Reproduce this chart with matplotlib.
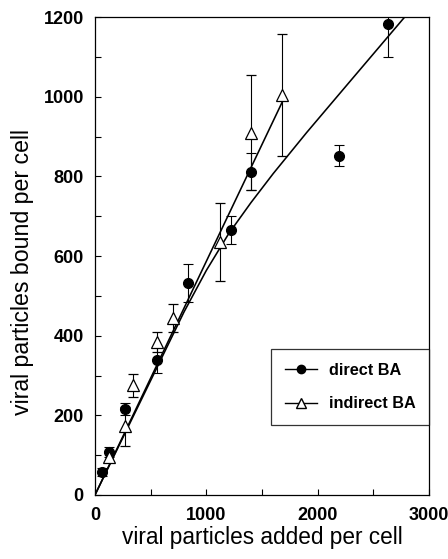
import matplotlib
matplotlib.use('Agg')
import matplotlib.pyplot as plt
from matplotlib.ticker import MultipleLocator

plt.rcParams['font.family'] = ['Liberation Sans', 'DejaVu Sans']

# direct BA (filled circles)
direct_x = [60, 130, 272, 555, 833, 1220, 1399, 2186, 2627]
direct_y = [58, 108, 217, 340, 532, 666, 812, 852, 1183]
direct_err = [10, 12, 15, 33, 47, 35, 46, 27, 83]

# indirect BA (open triangles)
indirect_x = [130, 272, 344, 555, 697, 1123, 1399, 1678]
indirect_y = [96, 172, 275, 385, 444, 635, 910, 1005]
indirect_err = [14, 48, 28, 25, 35, 97, 145, 153]

# fitted curves
direct_fit_x = [0, 400, 800, 1000, 1200, 1400, 1600, 1900, 2300, 2780]
direct_fit_y = [0, 230, 460, 564, 656, 734, 807, 910, 1042, 1200]
indirect_fit_x = [0, 1690]
indirect_fit_y = [0, 992]

fig = plt.figure(figsize=(4.48, 5.59), dpi=100)
ax = fig.add_axes([0.212, 0.1145, 0.746, 0.855])

# fitted lines
ax.plot(direct_fit_x, direct_fit_y, color='black', lw=1.15)
ax.plot(indirect_fit_x, indirect_fit_y, color='black', lw=1.15)

# data with error bars
ax.errorbar(direct_x, direct_y, yerr=direct_err, fmt='o', color='black',
            ms=7, ecolor='black', elinewidth=0.8, capsize=3.6, capthick=0.8, zorder=3)
ax.errorbar(indirect_x, indirect_y, yerr=indirect_err, fmt='^', color='black',
            mfc='white', mec='black', mew=0.9, ms=8.5, ecolor='black',
            elinewidth=0.8, capsize=3.6, capthick=0.8, zorder=4)

# legend handles
h1, = ax.plot([], [], '-o', color='black', ms=6, lw=1.0)
h2, = ax.plot([], [], '-^', color='black', mfc='white', ms=7.5, lw=1.0)
leg = ax.legend([h1, h2], ['direct BA', 'indirect BA'], loc='lower right',
                bbox_to_anchor=(1.0, 0.146), fontsize=11.7, frameon=True,
                fancybox=False, edgecolor='black', handlelength=1.95,
                handletextpad=0.74, borderpad=0.85, labelspacing=1.14,
                borderaxespad=0)
leg.get_frame().set_linewidth(0.9)
for t in leg.get_texts():
    t.set_fontweight('bold')

ax.set_xlim(0, 3000)
ax.set_ylim(0, 1200)
ax.xaxis.set_major_locator(MultipleLocator(1000))
ax.xaxis.set_minor_locator(MultipleLocator(500))
ax.yaxis.set_major_locator(MultipleLocator(200))
ax.yaxis.set_minor_locator(MultipleLocator(100))
ax.tick_params(which='both', direction='in', length=4, width=0.8,
               top=False, right=False)
ax.tick_params(axis='y', labelsize=13, pad=8)
ax.tick_params(axis='x', labelsize=13, pad=9)
for lab in ax.get_xticklabels() + ax.get_yticklabels():
    lab.set_fontweight('bold')
for sp in ax.spines.values():
    sp.set_linewidth(0.9)

ax.set_xlabel('viral particles added per cell', fontsize=16.3)
ax.set_ylabel('viral particles bound per cell', fontsize=16.7)
ax.xaxis.set_label_coords(0.5, -0.065)
ax.yaxis.set_label_coords(-0.183, 0.467)

fig.savefig('out.png', dpi=100)
